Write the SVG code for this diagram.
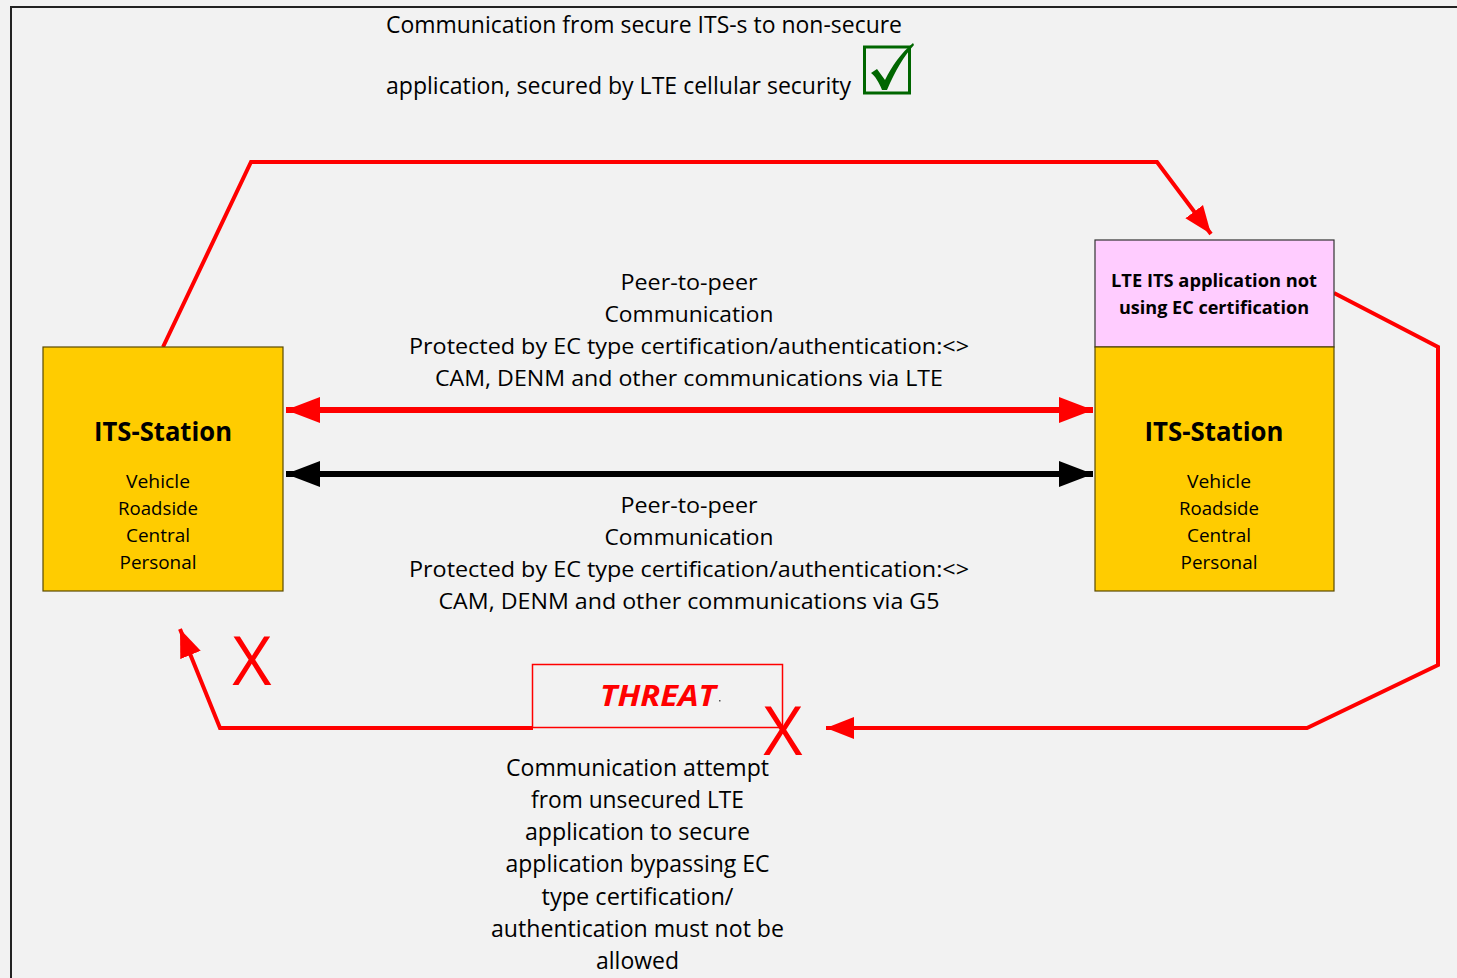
<svg xmlns="http://www.w3.org/2000/svg" width="1457" height="978" viewBox="0 0 1457 978">
<defs>
<style>
.t{font-family:"Open Sans","Noto Sans","Liberation Sans",sans-serif;fill:#000;text-anchor:middle}
.big{font-size:23px}
.mid{font-size:22px}
.sm{font-size:19px}
.hd{font-size:27px;font-weight:bold}
.pk{font-size:18px;font-weight:bold}
.xm{font-family:"Open Sans","Liberation Sans",sans-serif;font-size:68px;fill:#ff0000;text-anchor:middle}
.box{fill:#ffcc00;stroke:#5a4a00;stroke-width:1.2}
.red{fill:none;stroke:#ff0000;stroke-width:4;stroke-linejoin:miter}
.thick{fill:none;stroke-width:6}
</style>
<marker id="ahR" markerUnits="userSpaceOnUse" markerWidth="36" markerHeight="30" refX="34" refY="13" orient="auto-start-reverse" viewBox="0 0 36 26">
<path d="M0,0 L34,13 L0,26 Z" fill="#ff0000"/>
</marker>
<marker id="ahK" markerUnits="userSpaceOnUse" markerWidth="36" markerHeight="30" refX="34" refY="13" orient="auto-start-reverse" viewBox="0 0 36 26">
<path d="M0,0 L34,13 L0,26 Z" fill="#000"/>
</marker>
<marker id="ahS" markerUnits="userSpaceOnUse" markerWidth="30" markerHeight="24" refX="28" refY="11" orient="auto" viewBox="0 0 30 22">
<path d="M0,0 L28,11 L0,22 Z" fill="#ff0000"/>
</marker>
</defs>
<rect x="0" y="0" width="1457" height="978" fill="#f2f2f2"/>
<rect x="11" y="7" width="1460" height="990" fill="none" stroke="#222" stroke-width="2"/>

<g id="title">
<text class="t big" x="644" y="33" textLength="516" lengthAdjust="spacingAndGlyphs">Communication from secure ITS-s to non-secure</text>
<text class="t big" x="618.5" y="94" textLength="465" lengthAdjust="spacingAndGlyphs">application, secured by LTE cellular security</text>
<rect x="864.5" y="47" width="45" height="46" fill="none" stroke="#006600" stroke-width="3"/>
<path d="M871,73 L877,69 L885,80 C892,66 901,53 913,43 L914,45 C904,56 895,71 887,90 L882,90 C879,82 875,76 871,73 Z" fill="#006600"/>
</g>

<g id="connectors">
<path class="red" d="M163,347 L251,162 L1157,162 L1211,234" marker-end="url(#ahS)"/>
<path class="red" d="M1334,293 L1438,347 L1438,665 L1307,728 L826,728" marker-end="url(#ahS)"/>
<path class="red" d="M533,728 L220,728 L180,629" marker-end="url(#ahS)"/>
<line class="thick" x1="286" y1="410" x2="1093" y2="410" stroke="#ff0000" marker-start="url(#ahR)" marker-end="url(#ahR)"/>
<line class="thick" x1="286" y1="474" x2="1093" y2="474" stroke="#000" marker-start="url(#ahK)" marker-end="url(#ahK)"/>
</g>

<g id="label-lte">
<text class="t mid" x="689" y="290" textLength="137" lengthAdjust="spacingAndGlyphs">Peer-to-peer</text>
<text class="t mid" x="689" y="322" textLength="169" lengthAdjust="spacingAndGlyphs">Communication</text>
<text class="t mid" x="689" y="354" textLength="560" lengthAdjust="spacingAndGlyphs">Protected by EC type certification/authentication:&lt;&gt;</text>
<text class="t mid" x="689" y="386" textLength="508" lengthAdjust="spacingAndGlyphs">CAM, DENM and other communications via LTE</text>
</g>

<g id="label-g5">
<text class="t mid" x="689" y="513" textLength="137" lengthAdjust="spacingAndGlyphs">Peer-to-peer</text>
<text class="t mid" x="689" y="545" textLength="169" lengthAdjust="spacingAndGlyphs">Communication</text>
<text class="t mid" x="689" y="577" textLength="560" lengthAdjust="spacingAndGlyphs">Protected by EC type certification/authentication:&lt;&gt;</text>
<text class="t mid" x="689" y="609" textLength="501" lengthAdjust="spacingAndGlyphs">CAM, DENM and other communications via G5</text>
</g>

<g id="its-left">
<rect class="box" x="43" y="347" width="240" height="244"/>
<text class="t hd" x="163" y="441" textLength="138" lengthAdjust="spacingAndGlyphs">ITS-Station</text>
<text class="t sm" x="158" y="488" textLength="64" lengthAdjust="spacingAndGlyphs">Vehicle</text>
<text class="t sm" x="158" y="515" textLength="80" lengthAdjust="spacingAndGlyphs">Roadside</text>
<text class="t sm" x="158" y="542" textLength="64" lengthAdjust="spacingAndGlyphs">Central</text>
<text class="t sm" x="158" y="569" textLength="77" lengthAdjust="spacingAndGlyphs">Personal</text>
</g>

<g id="lte-app">
<rect x="1095" y="240" width="239" height="107" fill="#ffccff" stroke="#333" stroke-width="1.2"/>
<text class="t pk" x="1214" y="287" textLength="206" lengthAdjust="spacingAndGlyphs">LTE ITS application not</text>
<text class="t pk" x="1214" y="314" textLength="190" lengthAdjust="spacingAndGlyphs">using EC certification</text>
</g>

<g id="its-right">
<rect class="box" x="1095" y="347" width="239" height="244"/>
<text class="t hd" x="1214" y="441" textLength="139" lengthAdjust="spacingAndGlyphs">ITS-Station</text>
<text class="t sm" x="1219" y="488" textLength="64" lengthAdjust="spacingAndGlyphs">Vehicle</text>
<text class="t sm" x="1219" y="515" textLength="80" lengthAdjust="spacingAndGlyphs">Roadside</text>
<text class="t sm" x="1219" y="542" textLength="64" lengthAdjust="spacingAndGlyphs">Central</text>
<text class="t sm" x="1219" y="569" textLength="77" lengthAdjust="spacingAndGlyphs">Personal</text>
</g>

<g id="threat">
<rect x="532.5" y="664.5" width="250" height="63" fill="none" stroke="#ff0000" stroke-width="1.5"/>
<text x="658" y="706" font-family="Open Sans, Liberation Sans, sans-serif" font-size="29" font-weight="bold" font-style="italic" fill="#ff0000" text-anchor="middle" textLength="116" lengthAdjust="spacingAndGlyphs">THREAT</text>
<rect x="719" y="700" width="1.5" height="1.5" fill="#555"/>
</g>

<g id="x-marks">
<text class="xm" x="252" y="685">X</text>
<text class="xm" x="783" y="755">X</text>
</g>

<g id="label-threat">
<text class="t big" x="637.5" y="776" textLength="263" lengthAdjust="spacingAndGlyphs">Communication attempt</text>
<text class="t big" x="637.5" y="808" textLength="213" lengthAdjust="spacingAndGlyphs">from unsecured LTE</text>
<text class="t big" x="637.5" y="840" textLength="225" lengthAdjust="spacingAndGlyphs">application to secure</text>
<text class="t big" x="637.5" y="872" textLength="264" lengthAdjust="spacingAndGlyphs">application bypassing EC</text>
<text class="t big" x="637.5" y="905" textLength="192" lengthAdjust="spacingAndGlyphs">type certification/</text>
<text class="t big" x="637.5" y="937" textLength="293" lengthAdjust="spacingAndGlyphs">authentication must not be</text>
<text class="t big" x="637.5" y="969" textLength="83" lengthAdjust="spacingAndGlyphs">allowed</text>
</g>
</svg>
